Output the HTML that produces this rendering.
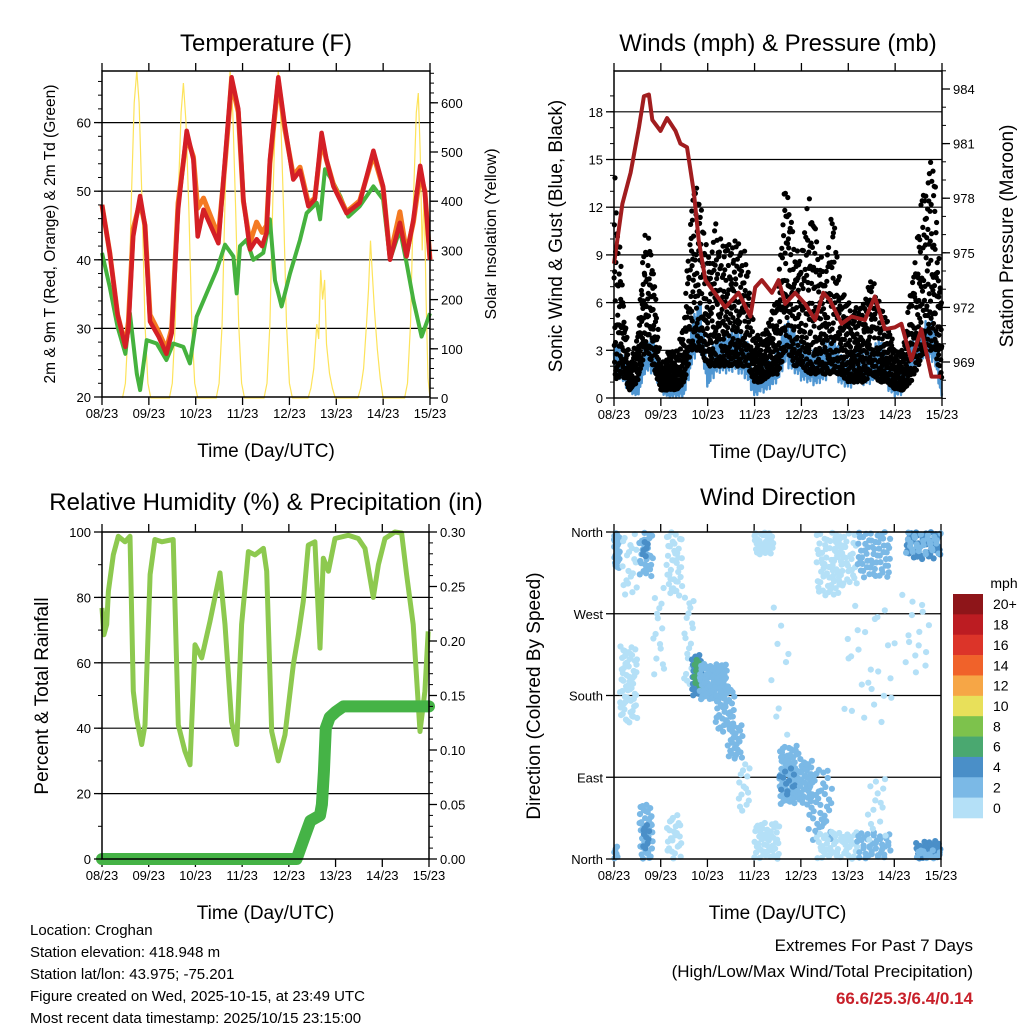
<!DOCTYPE html>
<html><head><meta charset="utf-8"><style>
body{margin:0;background:#fff}
svg{display:block;font-family:"Liberation Sans",Arial,sans-serif}
</style></head><body>
<svg id="root" width="1024" height="1024" viewBox="0 0 1024 1024" xmlns="http://www.w3.org/2000/svg">
<rect width="1024" height="1024" fill="#fff"/>
<text x="266" y="51" font-size="24" text-anchor="middle">Temperature (F)</text>
<text x="778" y="51" font-size="24" text-anchor="middle">Winds (mph) &amp; Pressure (mb)</text>
<text x="266" y="510" font-size="24" text-anchor="middle">Relative Humidity (%) &amp; Precipitation (in)</text>
<text x="778" y="505" font-size="24" text-anchor="middle">Wind Direction</text>
<g font-size="15">
<text x="30" y="935">Location: Croghan</text>
<text x="30" y="957">Station elevation: 418.948 m</text>
<text x="30" y="979">Station lat/lon: 43.975; -75.201</text>
<text x="30" y="1001">Figure created on Wed, 2025-10-15, at 23:49 UTC</text>
<text x="30" y="1023">Most recent data timestamp: 2025/10/15 23:15:00</text>
</g>
<g text-anchor="end">
<text x="973" y="951" font-size="17">Extremes For Past 7 Days</text>
<text x="973" y="977" font-size="17">(High/Low/Max Wind/Total Precipitation)</text>
<text x="973" y="1004" font-size="17" font-weight="bold" fill="#c8202a">66.6/25.3/6.4/0.14</text>
</g>
</svg>
<script>
// ---------- DATA ----------
const xTickLabels=["08/23","09/23","10/23","11/23","12/23","13/23","14/23","15/23"];
const tempT=[0,4,8,12,13.5,16,19.5,22,24.6,29,33,35.7,39,43.4,46.8,49,52,59.6,63,66.4,69.8,72.4,75.8,79.2,82,84.3,86,90.3,93.7,98,101.4,105.7,109,112.5,115,118.5,125.3,132,139,144,147.5,152.6,156,159.5,163,165.4,168];
const temp2m=[48,41,32,27.3,30,43.4,49.3,45,31,28.8,26.3,29.3,47.3,58.8,54.6,43.4,47.3,42.4,54.6,66.6,62,48.8,41.5,43,42,44,54.6,66.6,59.5,51.7,53,47.8,48.8,58.5,54.6,50.7,46.8,48.3,55.9,50.7,40,45.4,40.5,45.9,53.7,49.8,40];
const temp9m=[48,41,32,27.5,31,44.5,48.5,45,32,29.5,27,30,48.3,58,55,47.5,49,43.5,54,65.8,61.5,48.5,42.5,45.5,44,45,54,66,59,52.3,53.5,48.2,49,57.5,54.5,51,47,48.6,55.3,50.5,40.5,47,41,45.5,52.5,50,40];
const dewT=[0,4,8,12,14.3,17.8,19.5,22.9,28,33,36.5,41.7,45,48.5,53.6,58.7,63,67.3,69,70.7,74,77.5,82.6,86,88.6,92,96.3,101.4,104.8,110,111.7,114.2,117.6,122,126.2,132,139,144,147.5,152.6,156,159.5,163.7,168];
const dew=[41,36,30.2,26.3,32.2,23.4,21,28.3,27.8,25.4,27.8,27.3,24.9,31.7,35.1,38.5,42.2,40.5,35.1,42,42.9,40,41,45.9,37,33.2,38,42.9,46.8,48.3,45.9,53.2,51.7,49.3,46.3,47.8,50.7,48.8,40,44.4,39.5,34.1,28.8,32.2];
const solarT=[10.5,12,13.5,15,16.5,17.8,19,20.5,22,23.5,25, 34.5,36,37.5,39,40.5,41.7,43,44.5,46,47.5,49, 58.5,60,61.5,63,64.5,65.6,67,68.5,70,71.5,73, 83,84.5,86,87.5,89,90.3,91.5,93,94.5,96,97.5, 105.5,107,108.5,110,111,112,113,114,115,116.5,118,119.5, 131,132.5,134,135.5,136.5,137.5,138.5,139.5,141,142.5,144, 155,156.5,158,159.5,161,162,163,164,165,166,167,168];
const solarV=[0,30,150,400,600,665,600,400,150,30,0, 0,30,150,400,580,640,560,380,150,30,0, 0,30,150,400,600,665,580,380,150,30,0, 0,30,150,400,600,665,580,380,150,30,0, 0,20,60,150,120,260,200,240,110,50,20,0, 0,20,60,150,220,320,250,180,100,40,0, 0,30,150,400,580,620,500,300,420,200,40,0];
const presT=[0,4.3,8.5,12.8,15.3,17.9,19.6,23.8,27.2,31.5,34,37.4,40.9,43.4,46.8,50.2,57,63.8,69.8,72.3,75.7,80.9,84.3,87.7,92.8,97.9,103,107.2,110.6,116.6,121.7,128.5,133.6,138.7,143.8,147.2,152.3,157.4,162.6,167.7];
const pressure=[974.4,977.7,979.4,981.9,983.6,983.7,982.3,981.7,982.4,981.7,981,980.8,978.3,975.7,973.5,973,972,972.8,971.5,973.1,973.5,972.8,973.5,972.2,972.8,972.2,971.3,972.8,972.4,971.1,971.5,971.3,972.6,970.8,970.9,971.1,969.1,970.8,968.2,968.2];
const windBinT=[0,4,8,12,16,20,24,28,32,36,40,44,48,52,56,60,64,68,72,76,80,84,88,92,96,100,104,108,112,116,120,124,128,132,136,140,144,148,152,156,160,164,168];
const windHi=[4.2,3,1.5,1,3.5,4,2,0.8,1.2,1.5,5,6.5,2,4,4,4.5,4.5,4,1.5,2,2.5,3,5,4.5,3.5,3,3,3.5,4,3,2.5,3,3,3,4,2.5,1.5,1.5,3.5,4,5,5,0.5];
const windLo=[1.5,1,0.3,0,1.5,1.5,0.3,0,0,0,2,3,0.5,1.5,1.5,1.5,1.5,1,0,0.3,0.5,1,2,1.5,1,0.8,0.8,1,1.5,0.8,0.5,0.8,0.8,0.8,1.5,0.5,0,0.2,1.5,2,2.5,2,0];
const gustLo=[1,1.5,0.5,1,3,2,0.5,0.5,0.5,1,3,3,2,2,2,2,2,2,1,1,1.5,1.5,3,2,2,1.5,1.5,1.5,1.5,1.5,1,1,1,1.5,1,1,0.5,0.5,1,2,3,3,1];
const gustHi=[15,8,2,4,11,9,2,3,3,5,14,13,9,11,10,10,10,9,4,4,5,7,15,10,9,13.5,10,8,12.5,7,6,6,6,8,6,5,3,3,7,11,15,15,6];
const rhT=[0,1,2.4,3.3,5.8,8.4,11.8,14.4,16.1,17.8,20.4,22.1,24.7,27.2,30.7,36.6,39.2,42.6,45.2,47.8,51.2,55.5,60.6,63.2,66.6,69.2,71.7,75.2,78.6,82.9,84.6,87.2,90.6,94,98.3,100.9,103.4,106,109.4,112,113.7,116.3,119.7,126.5,131.7,135.1,139.4,142,145.4,150.5,153.9,156.5,159.9,163.4,165.9,167.6];
const rh=[76.8,68.6,71.7,81.9,93,98.7,97,98.7,51.3,43,35,41,87,97.7,97,97.7,41,33,28.8,65.5,61.5,72.7,87.5,71.7,42,35,71.7,94,93,95,88,39,30,38,59.4,68.6,78.8,96,97,64.5,92,88,98,99,98,95,80,90,98,100,99.7,87,71.7,39,51.3,69.6];
const precipT=[0,100,102,104,107,112,113,114,115,117,120,124,168];
const precip=[0,0,0.01,0.02,0.035,0.04,0.05,0.08,0.12,0.13,0.135,0.14,0.14];
const cbLabels=["20+","18","16","14","12","10","8","6","4","2","0"];
const cbColors=["#8e1519","#bc1c22","#dc3429","#f0622a","#f6a646","#e8e05a","#7dc24c","#4aa870","#4a8fc8","#7bb9e6","#b4e0f7"];
const dirLabels=["North","East","South","West","North"];
const dirT0=[0,0,3,4,13,13,15,14,20,27,27,36,40,41,44,52,58,64,72,72,80,85,85,95,100,104,104,112,125,125,118,130,148,150,150,155,155];
const dirT1=[3,2,12,12,20,20,18,18,26,35,35,41,45,44,58,62,66,70,85,82,90,95,93,102,112,118,125,125,142,142,145,140,162,168,168,168,168];
const dirLo=[320,0,150,290,310,0,10,330,200,290,0,190,180,190,175,140,110,50,0,335,100,60,70,60,20,290,0,300,310,0,150,20,200,330,335,0,0];
const dirHi=[360,15,235,360,360,60,40,350,300,360,50,290,225,220,215,190,150,110,40,360,280,125,100,110,100,360,30,360,360,30,280,90,300,360,360,20,10];
const dirSpeedBin=[2,2,0,0,2,2,4,4,0,0,0,0,4,6,2,2,2,0,0,0,0,2,4,2,2,0,0,0,2,2,0,0,0,4,2,4,2];
const dirCount=[25,8,60,20,30,40,10,6,15,40,25,20,40,12,90,40,25,15,50,35,10,70,12,40,45,60,50,40,60,40,25,15,15,40,30,30,15];

// ---------- HELPERS ----------
const NS="http://www.w3.org/2000/svg";
const root=document.getElementById('root');
function mk(tag,attrs,parent){const e=document.createElementNS(NS,tag);for(const k in attrs)e.setAttribute(k,attrs[k]);(parent||root).appendChild(e);return e;}
function interp(ts,vs,t){if(t<=ts[0])return vs[0];for(let i=1;i<ts.length;i++){if(t<=ts[i]){const f=(t-ts[i-1])/(ts[i]-ts[i-1]);return vs[i-1]+f*(vs[i]-vs[i-1]);}}return vs[vs.length-1];}
function frac(v){return v-Math.floor(v);}
function radInv(n,b){let r=0,f=1/b;while(n>0){r+=f*(n%b);n=Math.floor(n/b);f/=b;}return r;}
function pathOf(ts,vs,fx,fy){return ts.map((t,i)=>(i?'L':'M')+fx(t).toFixed(1)+','+fy(vs[i]).toFixed(1)).join('');}

function panelFrame(name,x0,x1,y0,y1){
  const g=mk('g',{});
  
  
  const xt=h=>x0+(x1-x0)*h/168;
  for(let i=0;i<8;i++){
    const x=xt(i*24);
    mk('line',{x1:x,y1:y1,x2:x,y2:y1+8,stroke:'#000','stroke-width':1.3},g);
    mk('line',{x1:x,y1:y0,x2:x,y2:y0-8,stroke:'#000','stroke-width':1.3},g);
    const t=mk('text',{x:x,y:y1+21,'font-size':13,'text-anchor':'middle'},g);
    t.textContent=xTickLabels[i];
  }
  const xl=mk('text',{x:(x0+x1)/2,y:y1+60,'font-size':19,'text-anchor':'middle'},g);
  xl.textContent='Time (Day/UTC)';
  return g;
}
function yAxis(g,x,side,vals,fy,labels,minor,minorFy){
  const d=side==='left'?-1:1;
  vals.forEach((v,i)=>{
    const y=fy(v);
    mk('line',{x1:x,y1:y,x2:x+d*8,y2:y,stroke:'#000','stroke-width':1.3},g);
    const t=mk('text',{x:x+d*11,y:y+5,'font-size':13,'text-anchor':side==='left'?'end':'start'},g);
    t.textContent=labels[i];
  });
  (minor||[]).forEach(v=>{const y=minorFy(v);mk('line',{x1:x,y1:y,x2:x+d*4,y2:y,stroke:'#000','stroke-width':1},g);});
}
function grid(g,x0,x1,ys){ys.forEach(y=>mk('line',{x1:x0,y1:y,x2:x1,y2:y,stroke:'#000','stroke-width':1.2},g));}
function box(g,x0,x1,y0,y1){mk('rect',{x:x0,y:y0,width:x1-x0,height:y1-y0,fill:'none',stroke:'#000','stroke-width':1.5},g);}
function rotLabel(g,x,y,txt,size){const t=mk('text',{x:0,y:0,'font-size':size,'text-anchor':'middle',transform:`translate(${x},${y}) rotate(-90)`},g);t.textContent=txt;return t;}
function range(a,b,s){const r=[];for(let v=a;v<=b+1e-9;v+=s)r.push(+v.toFixed(4));return r;}

// ---------- PANEL 1: TEMPERATURE ----------
(function(){
  const X0=102,X1=430,Y0=71,Y1=397;
  const fx=h=>X0+(X1-X0)*h/168;
  const fy=T=>397-(T-20)*6.86;
  const fs=S=>398-S*0.492;
  const g=panelFrame('temperature',X0,X1,Y0,Y1);
  grid(g,X0,X1,[30,40,50,60].map(fy));
  const sol=mk('path',{d:pathOf(solarT,solarV,fx,fs),fill:'none',stroke:'#fde35a','stroke-width':1.2},g);
  
  
  const dw=mk('path',{d:pathOf(dewT,dew,fx,fy),fill:'none',stroke:'#45b23e','stroke-width':4,'stroke-linejoin':'round'},g);
  
  
  const o=mk('path',{d:pathOf(tempT,temp9m,fx,fy),fill:'none',stroke:'#f47a22','stroke-width':5,'stroke-linejoin':'round'},g);
  
  
  const r=mk('path',{d:pathOf(tempT,temp2m,fx,fy),fill:'none',stroke:'#d41f26','stroke-width':4.5,'stroke-linejoin':'round'},g);
  
  
  box(g,X0,X1,Y0,Y1);
  const lv=range(20,60,10);
  yAxis(g,X0,'left',lv,fy,lv.map(String),range(20,66,2),fy);
  const sv=range(0,600,100);
  yAxis(g,X1,'right',sv,fs,sv.map(String),range(0,660,20),fs);
  rotLabel(g,55,234,'2m & 9m T (Red, Orange) & 2m Td (Green)',15.5);
  rotLabel(g,496,234,'Solar Insolation (Yellow)',16);
})();

// ---------- PANEL 2: WINDS ----------
(function(){
  const X0=614,X1=942,Y0=71,Y1=398;
  const fx=h=>X0+(X1-X0)*h/168;
  const fy=w=>398-w*15.9;
  const fp=p=>362-(p-969)*18.2;
  const g=panelFrame('winds',X0,X1,Y0,Y1);
  grid(g,X0,X1,[3,6,9,12,15,18].map(fy));
  let d='';
  let k=0;
  for(let t=0;t<=168;t+=0.2){
    const lo=interp(windBinT,windLo,t),hi=interp(windBinT,windHi,t);
    const v=lo+(hi-lo)*radInv(k+1,2);
    d+=(k?'L':'M')+fx(t).toFixed(1)+','+fy(v).toFixed(1);
    k++;
  }
  const wb=mk('path',{d:d,fill:'none',stroke:'#4f96d2','stroke-width':2.4,'stroke-linejoin':'round'},g);
  
  
  const gg=mk('g',{fill:'#000'},g);
  
  
  const N=2000;
  for(let i=1;i<=N;i++){
    const tt=168*radInv(i,3);
    const lo=interp(windBinT,gustLo,tt),hi=interp(windBinT,gustHi,tt);
    const f=Math.pow(radInv(i,2),1.5);
    const v=lo+(hi-lo)*f;
    mk('circle',{cx:fx(tt).toFixed(1),cy:fy(v).toFixed(1),r:2.6},gg);
  }
  const pl=mk('path',{d:pathOf(presT,pressure,fx,fp),fill:'none',stroke:'#a11d1f','stroke-width':4,'stroke-linejoin':'round'},g);
  
  
  box(g,X0,X1,Y0,Y1);
  const wv=range(0,18,3);
  yAxis(g,X0,'left',wv,fy,wv.map(String),range(0,19,1),fy);
  const pv=range(969,984,3);
  yAxis(g,X1,'right',pv,fp,pv.map(String),range(967,985,1),fp);
  rotLabel(g,562,236,'Sonic Wind & Gust (Blue, Black)',19);
  rotLabel(g,1013,236,'Station Pressure (Maroon)',19);
})();

// ---------- PANEL 3: RH & PRECIP ----------
(function(){
  const X0=102,X1=429,Y0=532,Y1=859;
  const fx=h=>X0+(X1-X0)*h/168;
  const fy=v=>859-v*3.27;
  const fr=p=>859-p*1090;
  const g=panelFrame('rh-precip',X0,X1,Y0,Y1);
  grid(g,X0,X1,[20,40,60,80].map(fy));
  const rl=mk('path',{d:pathOf(rhT,rh,fx,fy),fill:'none',stroke:'#8dc94f','stroke-width':5,'stroke-linejoin':'round'},g);
  
  
  const pr=mk('path',{d:pathOf(precipT,precip,fx,fr),fill:'none',stroke:'#45b346','stroke-width':12,'stroke-linejoin':'round','stroke-linecap':'round'},g);
  
  
  box(g,X0,X1,Y0,Y1);
  const lv=range(0,100,20);
  yAxis(g,X0,'left',lv,fy,lv.map(String),range(0,100,10),fy);
  const rv=range(0,0.3,0.05);
  yAxis(g,X1,'right',rv,fr,rv.map(v=>v.toFixed(2)),range(0,0.3,0.01),fr);
  rotLabel(g,48,696,'Percent & Total Rainfall',19);
})();

// ---------- PANEL 4: WIND DIRECTION ----------
(function(){
  const X0=614,X1=941,Y0=532,Y1=859;
  const fx=h=>X0+(X1-X0)*h/168;
  const fy=d=>859-d/360*(Y1-Y0);
  const g=panelFrame('wind-direction',X0,X1,Y0,Y1);
  grid(g,X0,X1,[90,180,270].map(fy));
  const dg=mk('g',{},g);
  
  
  let n=7;
  for(let c=0;c<dirT0.length;c++){
    const col=cbColors[10-dirSpeedBin[c]/2];
    for(let k=0;k<dirCount[c];k++){
      n++;
      const t=dirT0[c]+(dirT1[c]-dirT0[c])*radInv(n,2);
      const d=dirLo[c]+(dirHi[c]-dirLo[c])*radInv(n,3);
      mk('circle',{cx:fx(t).toFixed(1),cy:fy(d).toFixed(1),r:3.1,fill:col},dg);
    }
  }
  box(g,X0,X1,Y0,Y1);
  yAxis(g,X0,'left',[0,90,180,270,360],fy,dirLabels,[],fy);
  rotLabel(g,540,696,'Direction (Colored By Speed)',19);
  const cb=mk('g',{},root);
  
  
  const mph=mk('text',{x:1004,y:588,'font-size':14,'text-anchor':'middle'},cb);
  mph.textContent='mph';
  const h=(818-594)/cbColors.length;
  cbColors.forEach((c,i)=>{
    mk('rect',{x:953,y:594+i*h,width:30,height:h+0.3,fill:c},cb);
    const t=mk('text',{x:993,y:594+i*h+h/2+5,'font-size':14},cb);
    t.textContent=cbLabels[i];
  });
})();
</script>
</body></html>
